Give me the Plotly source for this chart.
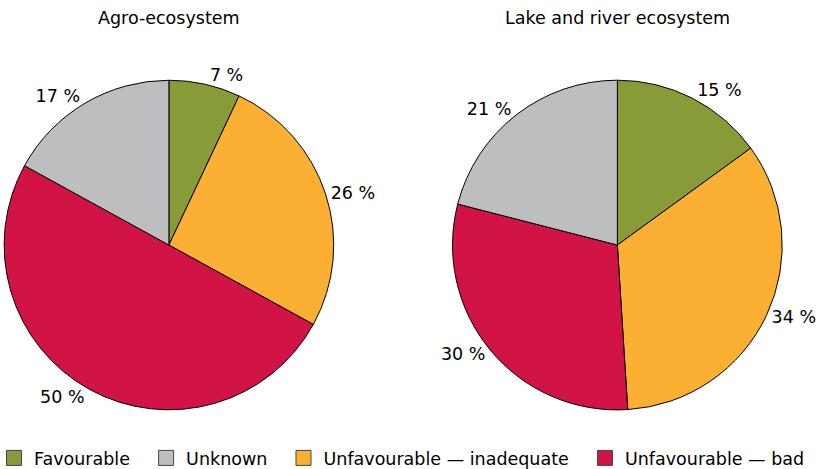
import plotly.graph_objects as go

categories = ["Favourable", "Unfavourable — inadequate", "Unfavourable — bad", "Unknown"]
agro_values = [7, 26, 50, 17]
lake_values = [15, 34, 30, 21]
titles = ["Agro-ecosystem", "Lake and river ecosystem"]
legend_order = ["Favourable", "Unknown", "Unfavourable — inadequate", "Unfavourable — bad"]

colors = {
    "Favourable": "#879c39",
    "Unfavourable — inadequate": "#fbb034",
    "Unfavourable — bad": "#d11445",
    "Unknown": "#bdbec0",
}
FONT = "DejaVu Sans, Verdana, sans-serif"
FS = 17.5

fig = go.Figure()

domains = [dict(x=[0.005, 0.405], y=[0.126, 0.829]),
           dict(x=[0.5485, 0.950], y=[0.126, 0.829])]

for vals, dom in zip([agro_values, lake_values], domains):
    fig.add_trace(go.Pie(
        labels=categories, values=vals, sort=False, direction="clockwise",
        rotation=0, domain=dom, showlegend=False,
        marker=dict(colors=[colors[c] for c in categories],
                    line=dict(color="#000000", width=1)),
        textposition="outside", texttemplate="%{value} %",
        textfont=dict(size=FS, color="#000000", family=FONT),
        hoverinfo="label+percent",
    ))

# legend entries in the reference's order (pie legend would follow slice order)
for name in legend_order:
    fig.add_trace(go.Scatter(
        x=[None], y=[None], mode="markers", name=name + "\u00a0\u00a0",
        marker=dict(symbol="square", size=15, color=colors[name],
                    line=dict(color="#444444", width=1)),
    ))

for t, dom in zip(titles, domains):
    fig.add_annotation(text=t, x=(dom["x"][0] + dom["x"][1]) / 2, y=1 - 18 / 469,
                       xref="paper", yref="paper", xanchor="center", yanchor="middle",
                       showarrow=False,
                       font=dict(size=FS, color="#000000", family=FONT))

fig.update_xaxes(visible=False)
fig.update_yaxes(visible=False)
fig.update_layout(
    width=824, height=469,
    margin=dict(l=0, r=0, t=0, b=0, autoexpand=False),
    paper_bgcolor="white", plot_bgcolor="white",
    font=dict(family=FONT, size=FS, color="#000000"),
    legend=dict(orientation="h", x=-0.0073, xanchor="left", y=-0.015, yanchor="bottom",
                font=dict(size=FS, family=FONT), itemwidth=30, tracegroupgap=0),
)

fig.write_html("out.html", config={"displayModeBar": False},
               post_script="document.body.style.margin='0';")
